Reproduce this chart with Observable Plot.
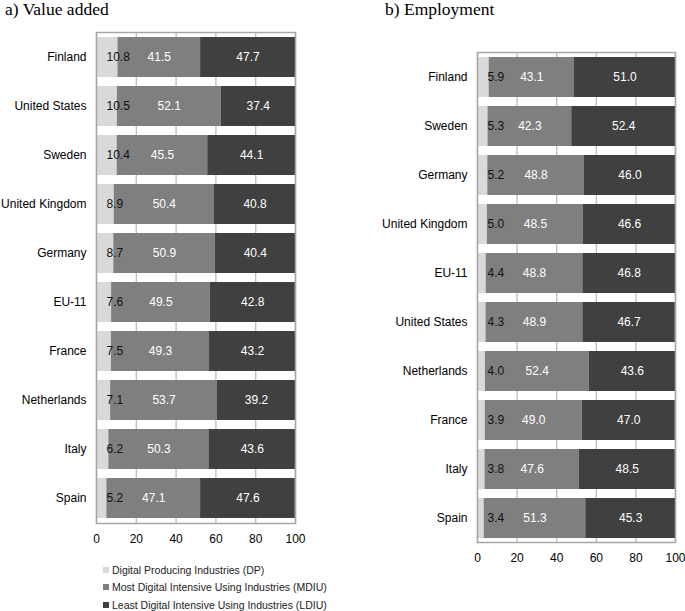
<!DOCTYPE html>
<html>
<head>
<meta charset="utf-8">
<script src="https://cdn.jsdelivr.net/npm/d3@7"></script>
<script src="https://cdn.jsdelivr.net/npm/@observablehq/plot@0.6"></script>
<style>
  html, body { margin: 0; padding: 0; background: #fff; }
  #wrap { position: relative; width: 685px; height: 611px; overflow: hidden; font-family: "Liberation Sans", Arial, sans-serif; }
  .title { position: absolute; font-family: "Liberation Serif", "Times New Roman", serif; font-size: 17.5px; line-height: 19.5px; color: #000; white-space: nowrap; }
  .panel { position: absolute; top: 0; }
  #legend { position: absolute; left: 103px; top: 562px; font-size: 10.5px; color: #222; }
  #legend div { height: 17.3px; line-height: 17.3px; white-space: nowrap; }
  #legend span.sw { display: inline-block; width: 6px; height: 6px; margin-right: 3px; vertical-align: 1px; }
</style>
</head>
<body>
<div id="wrap">
  <div class="panel" id="left" style="left:0px;"></div>
  <div class="panel" id="right" style="left:380px;"></div>
  <div class="title" style="left:5px; top:0px;">a) Value added</div>
  <div class="title" style="left:385px; top:0px;">b) Employment</div>
  <div id="legend"></div>
</div>
<script>
// ---- Data ----
const sectors = ["DP", "MDIU", "LDIU"];
const sectorNames = [
  "Digital Producing Industries (DP)",
  "Most Digital Intensive Using Industries (MDIU)",
  "Least Digital Intensive Using Industries (LDIU)"
];
const sectorColors = ["#d9d9d9", "#7f7f7f", "#404040"];

const vaCountries = ["Finland", "United States", "Sweden", "United Kingdom", "Germany", "EU-11", "France", "Netherlands", "Italy", "Spain"];
const vaDP   = [10.8, 10.5, 10.4, 8.9, 8.7, 7.6, 7.5, 7.1, 6.2, 5.2];
const vaMDIU = [41.5, 52.1, 45.5, 50.4, 50.9, 49.5, 49.3, 53.7, 50.3, 47.1];
const vaLDIU = [47.7, 37.4, 44.1, 40.8, 40.4, 42.8, 43.2, 39.2, 43.6, 47.6];

const emCountries = ["Finland", "Sweden", "Germany", "United Kingdom", "EU-11", "United States", "Netherlands", "France", "Italy", "Spain"];
const emDP   = [5.9, 5.3, 5.2, 5.0, 4.4, 4.3, 4.0, 3.9, 3.8, 3.4];
const emMDIU = [43.1, 42.3, 48.8, 48.5, 48.8, 48.9, 52.4, 49.0, 47.6, 51.3];
const emLDIU = [51.0, 52.4, 46.0, 46.6, 46.8, 46.7, 43.6, 47.0, 48.5, 45.3];

const xTicks = [0, 20, 40, 60, 80, 100];

function rows(countries, dp, mdiu, ldiu) {
  const out = [];
  countries.forEach((c, i) => {
    out.push({country: c, sector: "DP", value: dp[i]});
    out.push({country: c, sector: "MDIU", value: mdiu[i]});
    out.push({country: c, sector: "LDIU", value: ldiu[i]});
  });
  return out;
}

function panel(countries, data, opts) {
  return Plot.plot({
    width: opts.width,
    height: opts.height,
    marginLeft: opts.marginLeft,
    marginRight: opts.marginRight,
    marginTop: opts.marginTop,
    marginBottom: 25,
    style: {fontFamily: "'Liberation Sans', Arial, sans-serif", fontSize: "12px", color: "#000", background: "transparent", overflow: "visible"},
    x: {domain: [0, 100], ticks: xTicks, label: null, tickSize: 0, tickPadding: 11},
    y: {domain: countries, label: null, tickSize: 0, tickPadding: 10, paddingInner: 0.19, paddingOuter: 0.06},
    color: {domain: sectors, range: sectorColors},
    marks: [
      Plot.gridX(xTicks, {stroke: "#bdbdbd", strokeOpacity: 1, strokeWidth: 1.3}),
      Plot.barX(data, Plot.stackX({x: "value", y: "country", z: "sector", fill: "sector", order: sectors})),
      Plot.text(data, Plot.stackX({
        x: "value", y: "country", z: "sector", order: sectors,
        text: d => d.sector === "DP" ? null : d.value.toFixed(1),
        fill: "white", fontSize: 12
      })),
      Plot.text(data.filter(d => d.sector === "DP"), {
        y: "country", frameAnchor: "left", dx: 10, textAnchor: "start",
        text: d => d.value.toFixed(1), fill: "#111", fontSize: 12
      }),
      Plot.frame({stroke: "#a6a6a6", strokeWidth: 1.5})
    ]
  });
}

document.getElementById("left").appendChild(
  panel(vaCountries, rows(vaCountries, vaDP, vaMDIU, vaLDIU),
        {width: 312, height: 548, marginLeft: 96, marginRight: 17, marginTop: 32})
);
document.getElementById("right").appendChild(
  panel(emCountries, rows(emCountries, emDP, emMDIU, emLDIU),
        {width: 305, height: 567, marginLeft: 97, marginRight: 10, marginTop: 52})
);

const legend = document.getElementById("legend");
sectorNames.forEach((name, i) => {
  const row = document.createElement("div");
  const sw = document.createElement("span");
  sw.className = "sw";
  sw.style.background = sectorColors[i];
  row.appendChild(sw);
  row.appendChild(document.createTextNode(name));
  legend.appendChild(row);
});
</script>
</body>
</html>
